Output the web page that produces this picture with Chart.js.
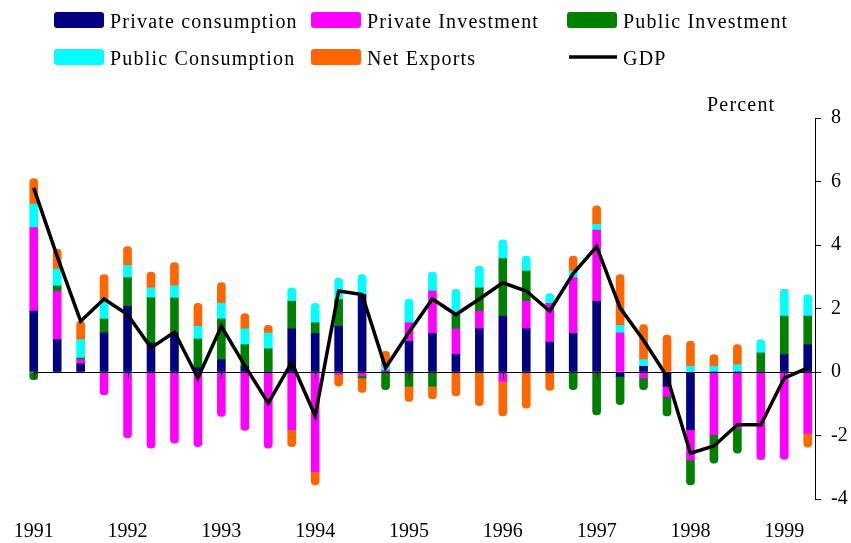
<!DOCTYPE html>
<html>
<head>
<meta charset="utf-8">
<script src="https://cdn.jsdelivr.net/npm/chart.js@4.4.1/dist/chart.umd.min.js"></script>
<style>
	body { margin: 0; background: #fff; }
	#wrap { position: relative; width: 851px; height: 543px; }
</style>
</head>
<body>
<div id="wrap"><canvas id="myChart" width="851" height="543"></canvas></div>
<script>

const quarters = [
	'1991Q1', '1991Q2', '1991Q3', '1991Q4',
	'1992Q1', '1992Q2', '1992Q3', '1992Q4',
	'1993Q1', '1993Q2', '1993Q3', '1993Q4',
	'1994Q1', '1994Q2', '1994Q3', '1994Q4',
	'1995Q1', '1995Q2', '1995Q3', '1995Q4',
	'1996Q1', '1996Q2', '1996Q3', '1996Q4',
	'1997Q1', '1997Q2', '1997Q3', '1997Q4',
	'1998Q1', '1998Q2', '1998Q3', '1998Q4',
	'1999Q1', '1999Q2',
];

const years = ['1991', '1992', '1993', '1994', '1995', '1996', '1997', '1998', '1999'];

const private_consumption = [
	1.92, 1.02, 0.26, 1.23, 2.07, 0.92, 1.23, 0.13,
	0.39, 0.18, 0.00, 1.36, 1.21, 1.44, 2.44, 0.00,
	0.97, 1.21, 0.55, 1.36, 1.76, 1.36, 0.94, 1.21,
	2.23, -0.14, 0.18, -0.45, -1.82, 0.00, 0.00, 0.00,
	0.55, 0.86,
];

const private_investment = [
	2.63, 1.53, 0.13, -0.72, -2.08, -2.40, -2.24, -2.35,
	-1.40, -1.84, -2.40, -1.82, -3.14, -0.08, -0.12, 0.05,
	0.58, 1.34, 0.81, 0.56, -0.30, 0.87, 1.22, 1.76,
	2.24, 1.23, -0.19, -0.32, -0.95, -1.98, -1.77, -2.75,
	-2.75, -1.93,
];

const public_investment = [
	-0.24, 0.16, 0.05, 0.44, 0.90, 1.42, 1.10, 0.91,
	1.28, 0.68, 0.73, 0.87, 0.34, 0.84, -0.07, -0.56,
	-0.45, -0.45, 0.45, 0.73, 1.81, 0.95, 0.00, -0.56,
	-1.35, -0.89, -0.37, -0.61, -0.79, -0.89, -0.79, 0.60,
	1.21, 0.90,
];

const public_consumption = [
	0.74, 0.53, 0.58, 0.61, 0.39, 0.31, 0.39, 0.40,
	0.50, 0.50, 0.50, 0.42, 0.61, 0.68, 0.63, 0.15,
	0.75, 0.60, 0.79, 0.69, 0.59, 0.47, 0.31, 0.21,
	0.18, 0.24, 0.21, 0.00, 0.18, 0.18, 0.23, 0.42,
	0.84, 0.68,
];

const net_exports = [
	0.80, 0.63, 0.58, 0.79, 0.59, 0.50, 0.73, 0.72,
	0.65, 0.48, 0.24, -0.53, -0.42, -0.37, -0.45, 0.45,
	-0.48, -0.40, -0.75, -1.06, -1.08, -1.14, -0.58, 0.47,
	0.58, 1.60, 1.10, 1.16, 0.79, 0.37, 0.63, 0.00,
	0.00, -0.44,
];

const gdp = [
	5.80, 3.64, 1.60, 2.30, 1.81, 0.76, 1.26, -0.19,
	1.44, 0.20, -0.98, 0.30, -1.38, 2.55, 2.44, 0.13,
	1.25, 2.30, 1.81, 2.30, 2.81, 2.55, 1.92, 3.10,
	3.95, 2.02, 1.00, -0.14, -2.56, -2.33, -1.66, -1.66,
	-0.19, 0.13,
];

const series = [
	{'name': 'Private consumption', 'values': private_consumption, 'color': '#000080'},
	{'name': 'Private Investment', 'values': private_investment, 'color': '#ff00ff'},
	{'name': 'Public Investment', 'values': public_investment, 'color': '#008000'},
	{'name': 'Public Consumption', 'values': public_consumption, 'color': '#00ffff'},
	{'name': 'Net Exports', 'values': net_exports, 'color': '#ff6600'},
];

// legend slots, row by row
const legend_slots = [
	[54, 12], [311, 12], [567, 12],
	[54, 49], [311, 49], [567, 49],
];

const text_font = '20px "Liberation Serif"';


function getPoints(values)
{
	return values.map((v, i) => ({'x': i, 'y': v}));
}


// year ticks sit under the first quarter of each year
const year_ticks = [];
quarters.forEach((q, i) => { if (q.endsWith('Q1')) year_ticks.push(i); });


const zeroLinePlugin = {
	id: 'zeroLine',
	afterDatasetsDraw(chart)
	{
		const ctx = chart.ctx;
		const x = chart.scales.x;
		const y0 = Math.round(chart.scales.y.getPixelForValue(0)) + 0.5;

		ctx.save();
		ctx.strokeStyle = '#000';
		ctx.lineWidth = 1;
		ctx.beginPath();
		ctx.moveTo(x.getPixelForValue(0), y0);
		ctx.lineTo(chart.chartArea.right, y0);

		for (let t of year_ticks)
		{
			const px = Math.round(x.getPixelForValue(t)) + 0.5;
			ctx.moveTo(px, y0);
			ctx.lineTo(px, y0 + 6);
		}
		ctx.stroke();
		ctx.restore();
	}
};


const legendPlugin = {
	id: 'boxLegend',
	afterDraw(chart)
	{
		const ctx = chart.ctx;
		const items = series.map((s) => ({'name': s.name, 'color': s.color, 'line': false}));
		items.push({'name': 'GDP', 'color': '#000', 'line': true});

		ctx.save();
		ctx.font = text_font;
		ctx.letterSpacing = '1.2px';
		ctx.textBaseline = 'alphabetic';
		ctx.textAlign = 'left';

		items.forEach((item, i) => {
			const [lx, ly] = legend_slots[i];

			if (item.line)
			{
				ctx.strokeStyle = item.color;
				ctx.lineWidth = 3.5;
				ctx.beginPath();
				ctx.moveTo(lx + 2, ly + 8);
				ctx.lineTo(lx + 50, ly + 8);
				ctx.stroke();
			}
			else
			{
				ctx.fillStyle = item.color;
				ctx.beginPath();
				ctx.roundRect(lx, ly, 50, 16, 3);
				ctx.fill();
			}

			ctx.fillStyle = '#000';
			ctx.fillText(item.name, lx + 56, ly + 16);
		});

		ctx.fillText('Percent', 707, 111);
		ctx.restore();
	}
};


window.onload = function(){

	const datasets = series.map((s) => ({
		'type': 'bar',
		'label': s.name,
		'data': getPoints(s.values),
		'backgroundColor': s.color,
		'barThickness': 8,
		'borderRadius': 4,
		'stack': 'parts',
		'order': 1,
	}));

	datasets.push({
		'type': 'line',
		'label': 'GDP',
		'data': getPoints(gdp),
		'borderColor': '#000',
		'borderWidth': 3.5,
		'pointRadius': 0,
		'tension': 0,
		'stack': 'gdp',
		'order': 0,
	});

	const canvas = document.getElementById('myChart').getContext('2d');

	new Chart(canvas, {
		type: 'bar',
		data: {datasets: datasets},
		plugins: [zeroLinePlugin, legendPlugin],
		options: {
			responsive: false,
			animation: false,
			layout: {padding: {left: 22, right: 0, top: 118, bottom: 0}},
			plugins: {
				legend: {display: false},
				tooltip: {enabled: false},
			},
			scales: {
				x: {
					type: 'linear',
					offset: false,
					stacked: true,
					min: -0.5,
					max: 33.31,
					grid: {display: false, offset: false},
					border: {display: false},
					afterBuildTicks: (s) => { s.ticks = year_ticks.map((v) => ({'value': v})); },
					afterFit: (s) => { s.height = 44; },
					ticks: {
						padding: 13,
						color: '#000',
						autoSkip: false,
						maxRotation: 0,
						font: {family: 'Liberation Serif', size: 20},
						callback: (v) => years[year_ticks.indexOf(v)],
					},
				},
				y: {
					position: 'right',
					stacked: true,
					min: -4,
					max: 8,
					afterFit: (s) => { s.width = 36; },
					grid: {drawOnChartArea: false, color: '#000', tickLength: 6},
					border: {color: '#000', width: 1},
					ticks: {
						stepSize: 2,
						padding: 10,
						color: '#000',
						font: {family: 'Liberation Serif', size: 20},
					},
				},
			},
		},
	});

}

</script>
</body>
</html>
